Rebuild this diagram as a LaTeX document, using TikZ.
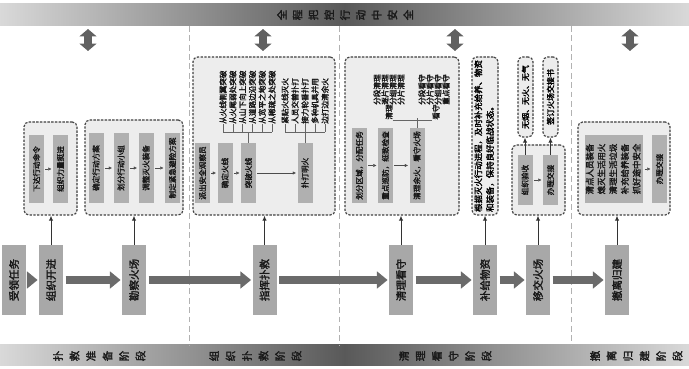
\documentclass[tikz,border=0pt]{standalone}
\usepackage{fontspec}
\setmainfont{Noto Sans CJK SC}[AutoFakeBold=2.2]
\usepackage{graphicx}
\usetikzlibrary{arrows.meta, positioning, calc, fit}
\newcommand{\vt}[1]{\rotatebox{90}{#1}}
\newcommand{\vlignes}[1]{\rotatebox{90}{\begin{tabular}{@{}l@{}}#1\end{tabular}}}

\begin{document}
\begin{tikzpicture}[x=0.03cm, y=-0.03cm, >=latex]
		% Styles des boîtes
		\tikzstyle{etape}=[fill=gray!68, text=black!90, minimum width=0.72cm, minimum height=2.1cm, inner sep=0pt, font=\bfseries\fontsize{9}{10}\selectfont]
		\tikzstyle{sous}=[fill=gray!62, text=black!90, minimum width=0.45cm, inner sep=0pt, font=\bfseries\fontsize{6.5}{7.5}\selectfont]
		\tikzstyle{groupe}=[draw=black!75, fill=gray!14, rounded corners=4pt, line width=1pt, dash pattern=on 2pt off 1.2pt, inner sep=0pt]
		\tikzstyle{liste}=[inner sep=0pt, text=black!90, font=\bfseries\fontsize{6.5}{7.5}\selectfont]
		\tikzstyle{bandtxt}=[inner sep=0pt, rotate=90, text=black!90, font=\bfseries\fontsize{9}{9}\selectfont]
		\tikzstyle{fleche}=[draw=black!58, line width=6.5pt, -{Triangle[length=0.32cm, width=0.5cm]}, shorten <=2pt, shorten >=1pt]
		\tikzstyle{liaison}=[draw=black!62, line width=6pt, {Triangle[length=0.22cm, width=0.5cm]}-{Triangle[length=0.22cm, width=0.5cm]}]
		\tikzstyle{lien}=[draw=black!80, line width=0.8pt, -{Latex[length=1.5mm, width=1.3mm]}]
		\tikzstyle{petit}=[draw=black!70, line width=0.4pt, -{Latex[length=1mm, width=1mm]}, shorten >=1pt, shorten <=1pt]
		\tikzstyle{trait}=[draw=black!60, line width=0.5pt]
		\tikzstyle{separe}=[draw=gray!60, line width=0.8pt, dash pattern=on 5pt off 3pt]
		
		\useasboundingbox (0,0) rectangle (689,369);
		
		%--- Bandeaux haut et bas ---
		\shade[left color=gray!30, right color=gray!30, middle color=gray!70!black] (0,4) rectangle (689,26);
		\shade[left color=gray!30, right color=gray!30, middle color=gray!70!black] (0,345) rectangle (689,366);
		\foreach \c [count=\i] in {全,程,把,控,行,动,中,安,全}
			\node[bandtxt] (th\i) at ({345+(\i-5)*15.8},15) {\c};
		\foreach \c [count=\i] in {扑,救,准,备,阶,段}
			\node[bandtxt] (ba\i) at ({58+(\i-1)*16.5},356) {\c};
		\foreach \c [count=\i] in {组,织,扑,救,阶,段}
			\node[bandtxt] (bb\i) at ({214+(\i-1)*16.5},356) {\c};
		\foreach \c [count=\i] in {清,理,看,守,阶,段}
			\node[bandtxt] (bc\i) at ({404+(\i-1)*16.5},356) {\c};
		\foreach \c [count=\i] in {撤,离,归,建,阶,段}
			\node[bandtxt] (bd\i) at ({595+(\i-1)*16.5},356) {\c};
		
		%--- Séparations des phases ---
		\draw[separe] (189,26) -- (189,345);
		\draw[separe] (339,26) -- (339,345);
		\draw[separe] (571,26) -- (571,345);
		
		%--- Doubles flèches sous le bandeau ---
		\foreach \x [count=\i] in {88,263,455,630} {
			\coordinate (dh\i) at (\x,29);
			\coordinate (db\i) at (\x,51);
			\draw[liaison] (dh\i) -- (db\i);
		}
		
		%--- Étapes principales ---
		\node[etape] (recu) at (14,280) {\vt{受领任务}};
		\node[etape] (orga) at (51,280) {\vt{组织开进}};
		\node[etape] (recon) at (134,280) {\vt{勘察火场}};
		\node[etape] (cmd) at (264.5,280) {\vt{指挥扑救}};
		\node[etape] (nett) at (401,280) {\vt{清理看守}};
		\node[etape] (ravit) at (485,280) {\vt{补给物资}};
		\node[etape] (trans) at (538,280) {\vt{移交火场}};
		\node[etape] (retour) at (617,280) {\vt{撤离归建}};
		
		\draw[fleche] (recu) -- (orga);
		\draw[fleche] (orga) -- (recon);
		\draw[fleche] (recon) -- (cmd);
		\draw[fleche] (cmd) -- (nett);
		\draw[fleche] (nett) -- (ravit);
		\draw[fleche] (ravit) -- (trans);
		\draw[fleche] (trans) -- (retour);
		
		%--- Groupe 1 : organiser ---
		\node[groupe, fit={(24,122) (77,215)}] (g1) {};
		\node[sous, minimum height=2.04cm] (g1a) at (36.5,169) {\vt{下达行动命令}};
		\node[sous, minimum height=2.04cm] (g1b) at (60.5,169) {\vt{组织力量挺进}};
		\draw[petit] (g1a) -- (g1b);
		
		%--- Groupe 2 : reconnaissance ---
		\node[groupe, fit={(85,120) (183,215)}] (g2) {};
		\node[sous, minimum height=2.1cm] (g2a) at (96,168) {\vt{确定行动方案}};
		\node[sous, minimum height=2.1cm] (g2b) at (121,168) {\vt{划分行动小组}};
		\node[sous, minimum height=2.1cm] (g2c) at (146,168) {\vt{调整灭火装备}};
		\node[sous, minimum height=2.1cm] (g2d) at (172.5,168) {\vt{制定紧急避险方案}};
		\draw[petit] (g2a) -- (g2b);
		\draw[petit] (g2b) -- (g2c);
		\draw[petit] (g2c) -- (g2d);
		
		%--- Groupe 3 : extinction ---
		\node[groupe, fit={(193,57) (335,215)}] (g3) {};
		\node[sous, minimum height=1.8cm] (g3a) at (202.5,173) {\vt{派出安全观察员}};
		\node[sous, minimum height=1.8cm] (g3b) at (225,173) {\vt{确定火线}};
		\node[sous, minimum height=1.8cm] (g3c) at (248.5,173) {\vt{突破火线}};
		\node[sous, minimum height=1.8cm] (g3d) at (305,173) {\vt{扑打明火}};
		\draw[petit] (g3a) -- (g3b);
		\draw[petit] (g3b) -- (g3c);
		\draw[petit] (g3c) -- (g3d);
		\foreach \t [count=\i] in {从火线侧翼突破,从火尾弱处突破,从山下向上突破,从道路边沿突破,从宽平之地突破,从稀疏之处突破}
			\node[liste, anchor=south] (pa\i) at ({223+(\i-1)*9.8},124) {\vt{\t}};
		\foreach \t [count=\i] in {紧贴火线灭火,人员交替扑打,接力轮番扑打,多种机具并用,边打边清余火}
			\node[liste, anchor=south] (pb\i) at ({285+(\i-1)*10},124) {\vt{\t}};
		\coordinate (barA) at (g3c.north |- 0,132);
		\coordinate (barB) at (g3d.north |- 0,132);
		\draw[trait] (pa1.south |- barA) -- (pa6.south |- barA);
		\draw[trait] (pb1.south |- barB) -- (pb5.south |- barB);
		\foreach \i in {1,...,6}
			\draw[trait] (pa\i.south) -- (pa\i.south |- barA);
		\foreach \i in {1,...,5}
			\draw[trait] (pb\i.south) -- (pb\i.south |- barB);
		\draw[trait] (g3c.north) -- (barA);
		\draw[trait] (g3d.north) -- (barB);
		
		%--- Groupe 4 : nettoyage et garde ---
		\node[groupe, fit={(345,57) (459,215)}] (g4) {};
		\node[sous, minimum height=2.25cm] (g4a) at (359.5,165.5) {\vt{划分区域，分配任务}};
		\node[sous, minimum height=2.25cm] (g4b) at (385.5,165.5) {\vt{重点巡防，细致检查}};
		\node[sous, minimum height=2.25cm] (g4c) at (417,165.5) {\vt{清理余火，看守火场}};
		\draw[petit] (g4a) -- (g4b);
		\draw[petit] (g4b) -- (g4c);
		\foreach \t [count=\i] in {分段清理,逐片清理,分组清理,分片清理}
			\node[liste, anchor=south] (qa\i) at ({377+(\i-1)*8},105) {\vt{\t}};
		\foreach \t [count=\i] in {分段看守,分片看守,分组看守,重点看守}
			\node[liste, anchor=south] (qb\i) at ({422+(\i-1)*8},105) {\vt{\t}};
		\node[liste] (qc) at (389,112) {\vt{清理}};
		\node[liste] (qd) at (436,112) {\vt{看守}};
		\coordinate (barC) at (g4c.north |- 0,118);
		\draw[trait] (qc.south east) -- (qd.south west);
		\draw[trait] (g4c.north) -- (barC);
		
		%--- Groupe 5 : ravitaillement ---
		\node[groupe, minimum width=0.78cm, minimum height=4.74cm] (g5) at (485,136) {\fontsize{7.2}{10}\selectfont\bfseries\vlignes{根据灭火行动进程，及时补充给养、物资\\和装备，保持良好临战状态。}};
		
		%--- Groupe 6 : remise ---
		\node[groupe, fit={(512,145) (565,215)}] (g6) {};
		\node[sous, minimum height=1.5cm] (g6a) at (525,180) {\vt{组织验收}};
		\node[sous, minimum height=1.5cm] (g6b) at (550.5,180) {\vt{办理交接}};
		\draw[petit] (g6a) -- (g6b);
		\node[groupe, minimum width=0.45cm, minimum height=2.4cm, font=\bfseries\fontsize{6.8}{7.5}\selectfont] (g6c) at (525.5,97) {\vt{无烟、无火、无气}};
		\node[groupe, minimum width=0.45cm, minimum height=2.4cm, font=\bfseries\fontsize{6.8}{7.5}\selectfont] (g6d) at (550.5,97) {\vt{签订火场交接书}};
		\draw[lien] (g6a.north) -- (g6a.north |- g6c.south);
		\draw[lien] (g6b.north) -- (g6b.north |- g6d.south);
		
		%--- Groupe 7 : retour ---
		\node[groupe, fit={(578,122) (670,215)}] (g7) {};
		\node[sous, minimum width=1.74cm, minimum height=2.04cm, font=\bfseries\fontsize{7.2}{10}\selectfont] (g7a) at (614,169) {\vlignes{清点人员装备\\熄灭生活用火\\清理生活垃圾\\补充给养装备\\抓好途中安全}};
		\node[sous, minimum height=2.04cm] (g7b) at (659.5,169) {\vt{办理交接}};
		\draw[petit] (g7a) -- (g7b);
		
		%--- Liaisons vers les groupes ---
		\draw[lien] (orga.north) -- (orga.north |- g1.south);
		\draw[lien] (recon.north) -- (recon.north |- g2.south);
		\draw[lien] (cmd.north) -- (cmd.north |- g3.south);
		\draw[lien] (nett.north) -- (nett.north |- g4.south);
		\draw[lien] (ravit.north) -- (ravit.north |- g5.south);
		\draw[lien] (trans.north) -- (trans.north |- g6.south);
		\draw[lien] (retour.north) -- (retour.north |- g7.south);
	\end{tikzpicture}
\end{document}
